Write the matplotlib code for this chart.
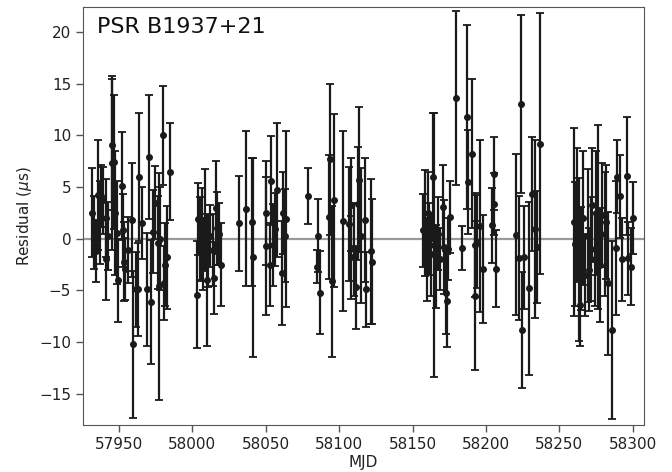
import matplotlib
matplotlib.use("Agg")
import matplotlib.pyplot as plt
import numpy as np
import seaborn as sns

# TOA residuals for PSR B1937+21 (MJD, residual in us, 1-sigma error in us)
mjd = [
    57931.8, 57933.0, 57934.3, 57935.7, 57936.9, 57937.7, 57939.1, 57940.9, 57941.2, 57942.5,
    57945.2, 57945.6, 57946.6, 57947.3, 57948.6, 57949.3, 57951.8, 57952.7, 57953.4, 57954.4,
    57956.1, 57958.6, 57959.5, 57961.6, 57962.7, 57963.6, 57965.4, 57968.9, 57970.6, 57971.8,
    57973.1, 57974.5, 57976.3, 57977.2, 57978.2, 57979.7, 57980.6, 57981.6, 57982.7, 57984.7,
    58002.9, 58003.8, 58005.1, 58006.5, 58007.5, 58008.5, 58009.7, 58010.8, 58011.9, 58013.8,
    58014.7, 58015.8, 58017.1, 58018.1, 58019.4,
    58031.9, 58036.7, 58040.7, 58041.4, 58049.9, 58050.4, 58052.8, 58053.5, 58055.0, 58056.2,
    58057.4, 58061.2, 58062.0, 58063.0, 58063.7,
    58078.9, 58085.0, 58085.7, 58086.8, 58093.0, 58093.6, 58094.8, 58096.4, 58102.7, 58106.8,
    58107.9, 58108.4, 58110.0, 58111.8, 58112.9, 58113.6, 58114.7, 58117.9, 58118.6, 58121.5,
    58122.4,
    58156.9, 58158.3, 58159.5, 58160.3, 58161.3, 58162.4, 58163.9, 58164.4, 58165.8, 58167.2,
    58168.5, 58170.8, 58171.6, 58172.6, 58173.3, 58174.3, 58175.3, 58179.9, 58184.0, 58187.1,
    58187.8, 58190.8, 58192.3, 58192.5, 58194.2, 58195.7, 58198.0, 58204.3, 58205.3, 58205.5,
    58207.1, 58220.7, 58222.5, 58223.7, 58224.8, 58225.9, 58229.1, 58231.6, 58233.2, 58234.7,
    58237.1,
    58259.7, 58260.8, 58262.0, 58263.1, 58263.8, 58265.0, 58266.0, 58267.2, 58269.4, 58270.1,
    58271.3, 58272.5, 58274.0, 58275.2, 58276.3, 58277.5, 58279.3, 58280.9, 58282.0, 58283.1,
    58286.1, 58288.8, 58289.5, 58291.0, 58292.9, 58296.3, 58296.8, 58299.0, 58300.1,
]
residual = [
    2.5, 0.6, -1.2, 4.2, 1.6, 4.1, 3.7, 2.0, -2.0, 0.3,
    9.1, 7.3, 7.4, 2.5, 0.6, -4.0, 5.1, 0.8, -2.2, -2.9,
    -1.1, 1.8, -10.2, -4.9, -4.9, 6.0, 1.5, -4.9, 7.9, -6.1,
    0.7, 3.5, -0.4, -4.6, 0.0, 10.0, -4.3, -2.5, -1.8, 6.5,
    -5.4, 1.9, 0.0, 0.4, -1.5, 1.8, -4.0, -1.2, 0.3, -1.1,
    -3.8, 3.0, 1.0, 0.5, -2.5,
    1.5, 2.9, 1.6, -1.8, -0.7, 2.5, -2.5, 5.6, -0.6, 0.9,
    4.7, -3.3, 2.5, 0.3, 1.9,
    4.1, -2.7, 0.3, -5.2, 2.1, 7.7, -4.1, 3.7, 1.7, 1.4,
    -1.8, 3.3, -1.0, -4.7, 3.4, 5.7, 0.3, 1.8, -4.9, -1.2,
    -2.2,
    0.8, 1.5, -2.0, 2.5, 0.0, -1.5, 6.0, -0.6, -2.7, 0.5,
    -2.0, 3.1, -0.8, -5.2, -6.0, -1.0, 2.1, 13.6, -0.9, 11.8,
    5.5, 8.2, -0.6, -5.5, -0.3, 1.2, -2.9, 1.3, 3.4, 6.3,
    -2.9, 0.4, -1.9, 13.0, -8.8, -1.8, -4.8, 4.3, 0.9, -0.8,
    9.2,
    1.6, -0.5, 2.3, -2.0, -6.4, -1.9, 2.0, -3.5, 0.3, -3.0,
    -1.0, 3.3, -2.0, 2.5, 2.1, -2.5, 2.3, 0.5, 1.6, -4.3,
    -8.8, -0.9, 6.0, 4.1, -2.0, 6.1, -1.9, -2.7, 2.0,
]
error = [
    4.3, 3.5, 3.0, 5.3, 4.0, 3.0, 3.2, 3.8, 3.9, 3.3,
    6.3, 8.4, 6.5, 6.0, 5.0, 4.0, 5.2, 3.5, 3.8, 3.0,
    3.2, 5.5, 7.1, 3.6, 4.5, 6.2, 3.5, 5.5, 6.0, 6.0,
    4.0, 3.5, 4.5, 11.0, 5.0, 4.8, 3.6, 4.0, 5.0, 4.7,
    5.2, 3.5, 4.0, 4.5, 3.5, 4.9, 6.4, 3.5, 3.0, 3.5,
    3.5, 4.5, 3.5, 3.0, 4.0,
    4.6, 7.5, 6.2, 9.6, 6.7, 5.0, 4.0, 4.3, 4.0, 3.5,
    6.5, 5.0, 4.0, 4.5, 8.5,
    2.7, 1.6, 3.5, 4.0, 6.0, 7.3, 7.3, 8.4, 8.7, 5.5,
    4.0, 4.5, 4.5, 4.0, 5.5, 7.0, 6.5, 6.0, 3.6, 7.0,
    6.0,
    3.5, 5.1, 4.0, 4.0, 3.5, 4.0, 6.2, 12.8, 4.0, 3.5,
    3.0, 4.0, 4.5, 4.0, 4.5, 3.0, 3.5, 8.4, 2.1, 8.9,
    5.0, 7.2, 5.0, 7.2, 4.5, 8.3, 5.2, 3.6, 3.0, 3.5,
    3.7, 7.8, 6.0, 8.6, 5.6, 5.0, 8.4, 5.5, 8.6, 5.4,
    12.6,
    9.1, 6.0, 6.5, 7.9, 4.0, 5.0, 6.5, 4.0, 6.4, 4.0,
    5.0, 5.5, 4.5, 6.0, 8.9, 5.5, 5.0, 6.0, 5.5, 6.9,
    8.6, 6.5, 3.5, 4.0, 4.0, 5.7, 3.5, 3.7, 3.5,
]

PSR_NAME = "PSR B1937+21"

sns.set_style("ticks")
plt.rcParams.update({
    "font.family": ["DejaVu Sans"],
    "axes.edgecolor": "#555555",
    "xtick.color": "#555555",
    "ytick.color": "#555555",
    "xtick.labelcolor": "#222222",
    "ytick.labelcolor": "#222222",
})

fig = plt.figure(figsize=(6.72, 4.72), dpi=100)
ax = fig.add_axes([0.1235, 0.0996, 0.8345, 0.8855])

ax.axhline(0, color="#999999", lw=1.6, zorder=1)
ax.errorbar(mjd, residual, yerr=error, fmt="o", ms=4, color="#1a1a1a",
            ecolor="#1a1a1a", elinewidth=1.6, capsize=3, capthick=1.3, zorder=2)

ax.set_xlim(57925.5, 58307.5)
ax.set_ylim(-18.0, 22.4)
ax.set_xticks(np.arange(57950, 58301, 50))
ax.set_yticks(np.arange(-15, 21, 5))
ax.tick_params(labelsize=11, length=5, width=1)
ax.set_xlabel("MJD", fontsize=11, color="#222222", labelpad=2)
ax.set_ylabel(r"Residual ($\mu$s)", fontsize=11, color="#222222")
ax.text(0.025, 0.975, PSR_NAME, transform=ax.transAxes, fontsize=16,
        va="top", ha="left", color="#111111")

fig.savefig("out.png", dpi=100)
